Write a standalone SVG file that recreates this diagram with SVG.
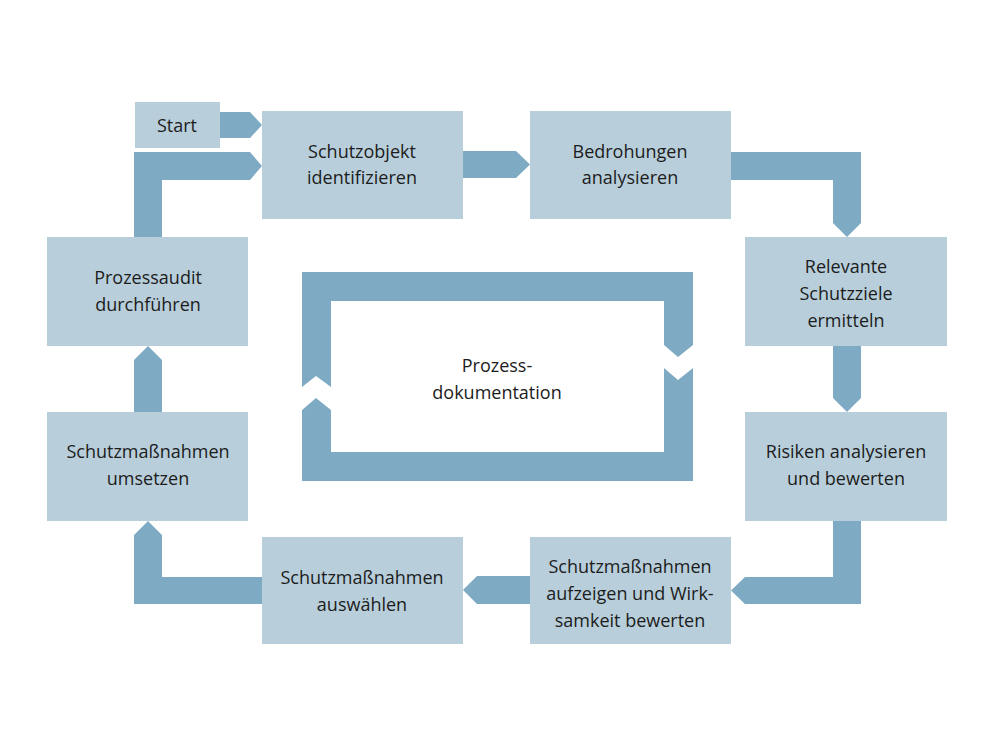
<svg xmlns="http://www.w3.org/2000/svg" width="1000" height="750" viewBox="0 0 1000 750">
<style>
.box{fill:#b8cfdb}
.arr{fill:#7eabc3}
text{font-family:"Open Sans","Liberation Sans",sans-serif;font-size:18px;fill:#1c1c1c;text-anchor:middle}
</style>
<rect width="1000" height="750" fill="#fff"/>
<g id="connectors" class="arr">
<polygon points="220,112 250,112 262,125 250,138 220,138"/>
<polygon points="463,151 516,151 530,164.5 516,178 463,178"/>
<polygon points="731,152 861,152 861,223 847,237 833,223 833,180 731,180"/>
<polygon points="833,346 861,346 861,398 847,412 833,398"/>
<polygon points="833,521 861,521 861,604 745,604 731,590.5 745,577 833,577"/>
<polygon points="530,576 530,604 477,604 463,590 477,576"/>
<polygon points="262,577 262,604 134,604 134,535 148,521 162,535 162,577"/>
<polygon points="134,412 162,412 162,360 148,346 134,360"/>
<polygon points="134,237 162,237 162,180 250,180 262,166 250,152 134,152"/>
</g>
<g id="doku">
<polygon class="arr" points="302,387 316,376 331,387 331,301 664,301 664,345 678,357 693,345 693,272 302,272"/>
<polygon class="arr" points="693,368 678,380 664,368 664,452 331,452 331,410 316,398 302,410 302,481 693,481"/>
<text x="497" y="372">Prozess-</text>
<text x="497" y="399">dokumentation</text>
</g>
<g id="start"><rect class="box" x="135" y="102" width="85" height="46"/><text x="177" y="132">Start</text></g>
<g id="schutzobjekt"><rect class="box" x="262" y="111" width="201" height="108"/><text x="362" y="158">Schutzobjekt</text><text x="362" y="184">identifizieren</text></g>
<g id="bedrohungen"><rect class="box" x="530" y="111" width="201" height="108"/><text x="630" y="158">Bedrohungen</text><text x="630" y="184">analysieren</text></g>
<g id="schutzziele"><rect class="box" x="745" y="237" width="202" height="109"/><text x="846" y="273">Relevante</text><text x="846" y="300">Schutzziele</text><text x="846" y="327">ermitteln</text></g>
<g id="risiken"><rect class="box" x="745" y="412" width="202" height="109"/><text x="846" y="458">Risiken analysieren</text><text x="846" y="485">und bewerten</text></g>
<g id="aufzeigen"><rect class="box" x="530" y="537" width="201" height="107"/><text x="630" y="573">Schutzmaßnahmen</text><text x="630" y="600">aufzeigen und Wirk-</text><text x="630" y="627">samkeit bewerten</text></g>
<g id="auswaehlen"><rect class="box" x="262" y="537" width="201" height="107"/><text x="362" y="584">Schutzmaßnahmen</text><text x="362" y="611">auswählen</text></g>
<g id="umsetzen"><rect class="box" x="47" y="412" width="201" height="109"/><text x="148" y="458">Schutzmaßnahmen</text><text x="148" y="485">umsetzen</text></g>
<g id="audit"><rect class="box" x="47" y="237" width="201" height="109"/><text x="148" y="284">Prozessaudit</text><text x="148" y="311">durchführen</text></g>
</svg>
